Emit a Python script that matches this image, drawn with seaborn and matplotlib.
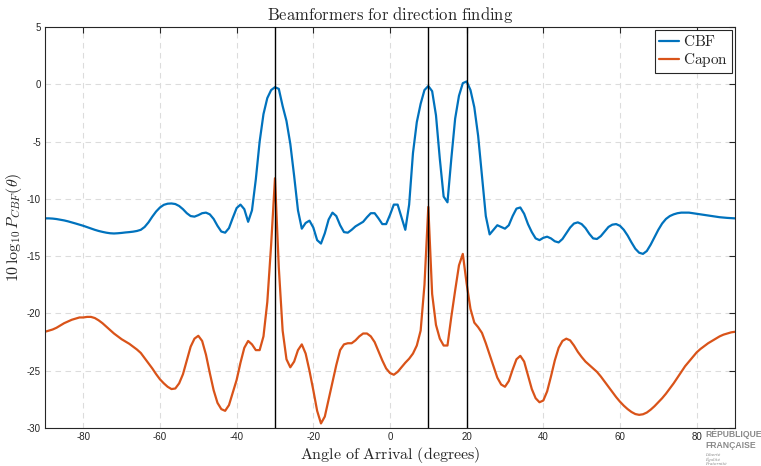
import numpy as np
import pandas as pd
import matplotlib
matplotlib.use("Agg")
import matplotlib.pyplot as plt
import seaborn as sns

# -----------------------
# DATA (1 degree steps)
# -----------------------
angles = np.arange(-90, 91)

cbf_db = [
    -11.70, -11.70, -11.72, -11.76, -11.82, -11.88, -11.96, -12.05, -12.15, -12.25,  # -90..-81
    -12.35, -12.47, -12.58, -12.70, -12.80, -12.88, -12.95, -13.00, -13.02, -13.00,  # -80..-71
    -12.97, -12.93, -12.90, -12.86, -12.80, -12.70, -12.45, -12.05, -11.55, -11.10,  # -70..-61
    -10.75, -10.52, -10.42, -10.40, -10.45, -10.62, -10.90, -11.25, -11.50, -11.55,  # -60..-51
    -11.42, -11.25, -11.20, -11.35, -11.75, -12.35, -12.85, -12.95, -12.55, -11.65,  # -50..-41
    -10.80, -10.50, -10.90, -12.00, -11.00, -8.30, -5.00, -2.60, -1.20, -0.50,       # -40..-31
    -0.25, -0.40, -1.90, -3.20, -5.20, -8.00, -11.00, -12.60, -12.10, -11.90,        # -30..-21
    -12.50, -13.60, -13.90, -13.00, -11.80, -11.20, -11.50, -12.30, -12.90, -12.95,  # -20..-11
    -12.70, -12.40, -12.20, -12.00, -11.60, -11.25, -11.25, -11.70, -12.20, -12.20,  # -10..-1
    -11.40, -10.50, -10.50, -11.60, -12.70, -10.50, -6.00, -3.30, -1.70, -0.50,      # 0..9
    -0.15, -0.60, -2.70, -6.50, -9.80, -10.30, -6.50, -3.00, -1.00, 0.10,            # 10..19
    0.25, -0.50, -2.00, -4.50, -8.00, -11.50, -13.10, -12.70, -12.30, -12.45,        # 20..29
    -12.60, -12.30, -11.50, -10.85, -10.75, -11.30, -12.20, -12.90, -13.45, -13.60,  # 30..39
    -13.40, -13.30, -13.45, -13.70, -13.80, -13.50, -13.00, -12.50, -12.15, -12.05,  # 40..49
    -12.20, -12.55, -13.05, -13.45, -13.50, -13.25, -12.85, -12.45, -12.25, -12.20,  # 50..59
    -12.35, -12.70, -13.20, -13.80, -14.35, -14.70, -14.80, -14.55, -14.00, -13.35,  # 60..69
    -12.70, -12.15, -11.75, -11.50, -11.35, -11.25, -11.20, -11.20, -11.20, -11.25,  # 70..79
    -11.30, -11.35, -11.40, -11.45, -11.50, -11.55, -11.60, -11.63, -11.66, -11.68,  # 80..89
    -11.70,                                                                          # 90
]

capon_db = [
    -21.60, -21.50, -21.40, -21.25, -21.05, -20.85, -20.70, -20.55, -20.45, -20.35,  # -90..-81
    -20.35, -20.30, -20.30, -20.40, -20.60, -20.85, -21.15, -21.45, -21.75, -22.00,  # -80..-71
    -22.25, -22.45, -22.65, -22.90, -23.15, -23.45, -23.90, -24.35, -24.80, -25.30,  # -70..-61
    -25.75, -26.10, -26.40, -26.60, -26.55, -26.10, -25.30, -24.10, -22.90, -22.20,  # -60..-51
    -21.95, -22.40, -23.60, -25.20, -26.70, -27.80, -28.35, -28.50, -28.00, -26.90,  # -50..-41
    -25.80, -24.30, -23.00, -22.40, -22.70, -23.20, -23.20, -22.00, -19.00, -14.00,  # -40..-31
    -8.20, -16.00, -21.50, -24.00, -24.70, -24.20, -23.20, -22.70, -23.50, -25.00,   # -30..-21
    -26.70, -28.50, -29.60, -29.00, -27.50, -26.00, -24.50, -23.20, -22.70, -22.60,  # -20..-11
    -22.60, -22.35, -22.00, -21.75, -21.75, -22.00, -22.50, -23.30, -24.10, -24.80,  # -10..-1
    -25.20, -25.35, -25.10, -24.70, -24.30, -23.95, -23.50, -22.80, -21.50, -17.50,  # 0..9
    -10.70, -18.30, -21.00, -22.20, -22.80, -22.80, -20.30, -18.00, -15.80, -14.80,  # 10..19
    -17.40, -19.60, -20.80, -21.20, -21.70, -22.60, -23.60, -24.60, -25.60, -26.20,  # 20..29
    -26.40, -25.90, -24.90, -24.00, -23.70, -24.20, -25.40, -26.60, -27.40, -27.75,  # 30..39
    -27.60, -26.80, -25.50, -24.10, -23.00, -22.40, -22.20, -22.35, -22.80, -23.35,  # 40..49
    -23.80, -24.20, -24.50, -24.80, -25.10, -25.50, -25.95, -26.40, -26.85, -27.30,  # 50..59
    -27.70, -28.05, -28.35, -28.60, -28.78, -28.85, -28.80, -28.65, -28.40, -28.10,  # 60..69
    -27.75, -27.40, -27.00, -26.55, -26.10, -25.60, -25.10, -24.60, -24.20, -23.80,  # 70..79
    -23.40, -23.10, -22.85, -22.60, -22.40, -22.20, -22.00, -21.85, -21.75, -21.65,  # 80..89
    -21.60,                                                                          # 90
]

true_doas = [-30, 10, 20]
methods = ["CBF", "Capon"]
colors = ["#0072BD", "#D95319"]

# -----------------------
# LONG FORMAT TABLE
# -----------------------
df = pd.concat([
    pd.DataFrame({"angle": angles, "power": cbf_db, "method": "CBF"}),
    pd.DataFrame({"angle": angles, "power": capon_db, "method": "Capon"}),
])

# -----------------------
# STYLE (matlab look)
# -----------------------
sns.set_theme(style="white")
plt.rcParams["font.family"] = ["Liberation Sans", "DejaVu Sans"]
plt.rcParams["mathtext.fontset"] = "cm"
plt.rcParams["axes.unicode_minus"] = False

fig = plt.figure(figsize=(7.61, 4.66), dpi=100)
ax = fig.add_axes([0.0591, 0.0815, 0.9067, 0.8605])

sns.lineplot(data=df, x="angle", y="power", hue="method", hue_order=methods,
             palette=colors, linewidth=1.6, sort=False, ax=ax, legend=False)

for doa in true_doas:
    ax.axvline(doa, color="black", linewidth=1.0, zorder=3)

ax.set_xlim(-90, 90)
ax.set_ylim(-30, 5)
ax.set_xticks(np.arange(-80, 81, 20))
ax.set_yticks(np.arange(-30, 6, 5))
ax.grid(True, linestyle=(0, (5, 4)), color="#dcdcdc", linewidth=0.8)
ax.tick_params(direction="in", top=True, right=True, length=4, width=0.8,
               colors="#262626", labelsize=7, pad=3)
for s in ax.spines.values():
    s.set_color("#262626")
    s.set_linewidth(0.8)

ax.set_title(r"$\mathrm{Beamformers\ for\ direction\ finding}$", fontsize=12, pad=5)
ax.set_xlabel(r"$\mathrm{Angle\ of\ Arrival\ (degrees)}$", fontsize=11.5, labelpad=2)
ax.set_ylabel(r"$10\,\log_{10}P_{CBF}(\theta)$", fontsize=11.5, labelpad=2)

handles = [plt.Line2D([], [], color=c, linewidth=1.6) for c in colors]
leg = ax.legend(handles, [r"$\mathrm{CBF}$", r"$\mathrm{Capon}$"], loc="upper right",
                fontsize=11, frameon=True, fancybox=False, framealpha=1,
                edgecolor="#262626", handlelength=1.3, handletextpad=0.3,
                borderpad=0.25, labelspacing=0.15, borderaxespad=0.2)
leg.get_frame().set_linewidth(0.8)

# watermark in the lower right corner
fig.text(0.927, 0.062, "RÉPUBLIQUE", fontsize=6.2, fontweight="bold", color="#8a8a8a")
fig.text(0.927, 0.038, "FRANÇAISE", fontsize=6.2, fontweight="bold", color="#8a8a8a")
fig.text(0.927, 0.002, "Liberté\nÉgalité\nFraternité", fontsize=3, style="italic",
         family="DejaVu Serif", color="#8a8a8a", linespacing=1.0)

fig.savefig("out.png", dpi=100)
